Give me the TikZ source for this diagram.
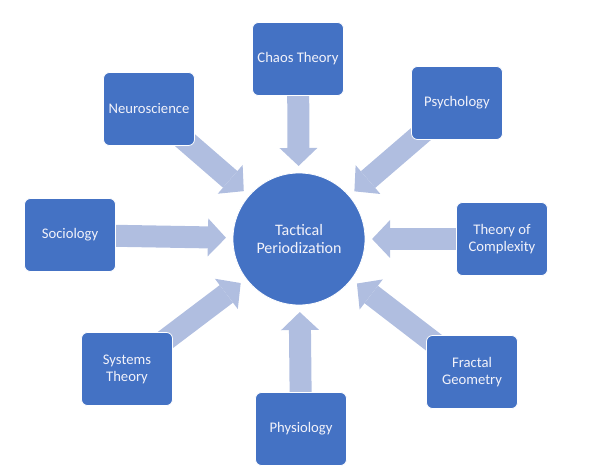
\documentclass[tikz,border=0pt]{standalone}
\usepackage{fontspec}
\setmainfont{Carlito}
\usepackage{tikz}
\usetikzlibrary{arrows.meta, shapes, backgrounds}
\definecolor{boxblue}{RGB}{68,114,196}
\definecolor{arrowblue}{RGB}{176,190,224}
\definecolor{textwhite}{RGB}{242,242,250}

\begin{document}
\begin{tikzpicture}[x=0.75pt,y=-0.75pt]
\useasboundingbox (0,0) rectangle (600,473);
\begin{scope}[every node/.style={rectangle,rounded corners=4.5pt,fill=boxblue,draw=white,line width=0.6pt,text=textwhite,minimum width=68.25pt,minimum height=54.75pt,align=center,font=\fontsize{11}{12.75}\selectfont}]
  \node[circle,minimum size=99pt,font=\fontsize{12}{14}\selectfont] (tp) at (299,239) {Tactical\\Periodization};
  \node (chaos) at (298,59) {Chaos Theory};
    \node (neuro) at (149,109) {Neuroscience};
    \node (psych) at (457,103) {Psychology};
    \node (socio) at (70,235) {Sociology};
    \node (complex) at (502,239) {Theory of\\Complexity};
    \node (systems) at (127,369) {Systems\\Theory};
    \node (fractal) at (472,372) {Fractal\\Geometry};
    \node (physio) at (301,429) {Physiology};
\end{scope}

\begin{pgfonlayer}{background}
\begin{scope}[>={Triangle[width=28.5pt,length=13.5pt,line width=0pt]},
              every edge/.style={draw=arrowblue, line width=16.5pt, shorten >=5pt}]
    \path[->] (chaos.center) edge (tp);
    \path[->] (neuro.center) edge (tp);
    \path[->] (psych.center) edge (tp);
    \path[->] (socio.center) edge (tp);
    \path[->] (complex.center) edge (tp);
    \path[->] (systems.center) edge (tp);
    \path[->] (fractal.center) edge (tp);
    \path[->] (physio.center) edge (tp);
\end{scope}
\end{pgfonlayer}

\end{tikzpicture}
\end{document}
